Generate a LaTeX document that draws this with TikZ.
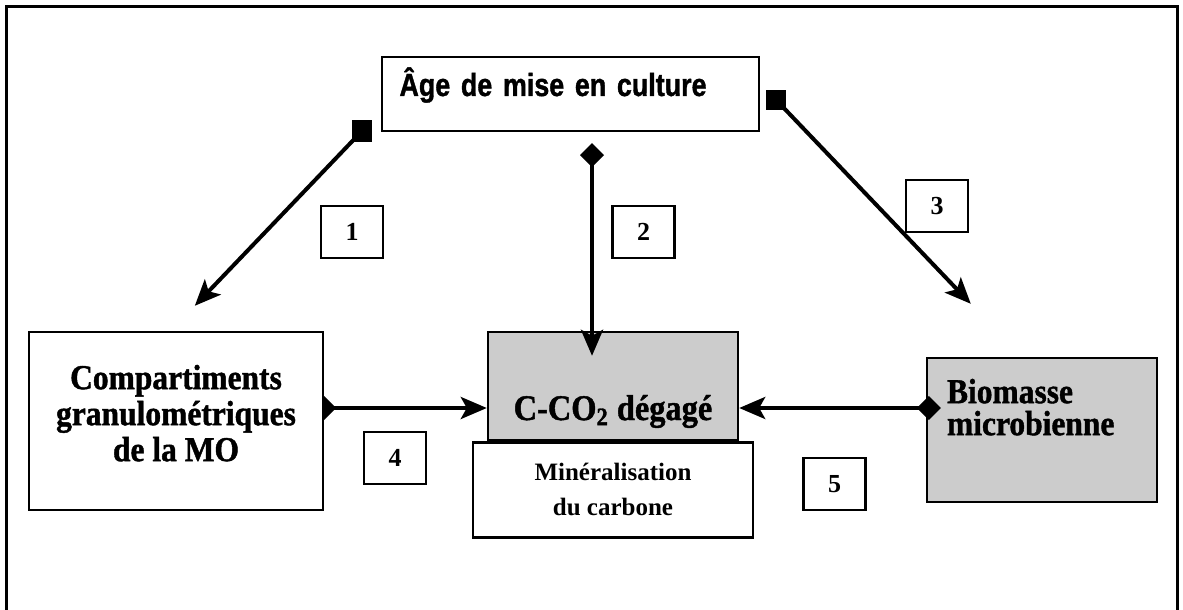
\documentclass[tikz,border=0pt]{standalone}
\usepackage{fontspec}
\setmainfont{Liberation Serif}
\newfontfamily\headsans{Liberation Sans}[FakeStretch=0.84,FakeBold=1.2]
\newfontfamily\headserif{Liberation Serif}[FakeStretch=0.9,FakeBold=1.2]
\usetikzlibrary{arrows.meta,positioning,calc,backgrounds}
\definecolor{dotgray}{gray}{0.8}
\tikzset{
  frame/.style   = {line width=1.5pt},
  box/.style     = {rectangle, draw, line width=1.2pt, fill=white, inner sep=0pt},
  greybox/.style = {box, fill=dotgray},
  numbox/.style  = {rectangle, draw, line width=1.1pt, fill=white,
                    minimum width=31pt, minimum height=26pt,
                    font=\bfseries\fontsize{13}{15}\selectfont},
  headfont/.style = {font=\headserif\bfseries\fontsize{17.5}{#1}\selectfont},
  flow/.style    = {-{Stealth[length=13pt,width=11pt,inset=3pt]}, line width=2pt},
  dflow/.style   = {{Diamond[length=12pt,width=12pt]}-{Stealth[length=13pt,width=11pt,inset=3pt]},
                    line width=2pt},
}
\begin{document}
\begin{tikzpicture}[x=0.5pt,y=-0.5pt]
  \useasboundingbox (0,0) rectangle (1183,610);
  \draw[frame] (6,640) -- (6,7) -- (1177,7) -- (1177,640);

  % boxes
  \node[box, text width=171pt, inner xsep=8.75pt, align=left,
        text height=19.5pt, text depth=17.5pt,
        font=\headsans\bfseries\fontsize{16}{18}\selectfont] (age) at (570.5,94)
    {Âge de mise en culture};
  \node[box, minimum width=147pt, minimum height=89pt, align=center, headfont=18pt]
    (compart) at (176,421) {Compartiments\\granulométriques\\de la MO\\[-10pt]\mbox{}};
  \node[greybox, minimum width=125pt, text height=44pt, text depth=10pt,
        font=\headserif\bfseries\fontsize{18}{20}\selectfont] (ccog) at (613,386)
    {C-CO\textsubscript{2} dégagé};
  \node[box, below=0pt of ccog, minimum width=140pt, minimum height=47.5pt, align=center,
        font=\bfseries\fontsize{12.5}{17.5}\selectfont] (miner)
    {Minéralisation\\du carbone};
  \node[greybox, minimum height=72pt, text width=95pt, inner xsep=10pt, align=left,
        headfont=16pt] (bio) at (1042,430) {Biomasse\\microbienne\\[7pt]\mbox{}};

  % numbers
  \node[numbox] (n1) at (352,232) {1};
  \node[numbox] (n2) at (643.5,232) {2};
  \node[numbox] (n3) at (937,206) {3};
  \node[numbox] (n4) at (395,458) {4};
  \node[numbox] (n5) at (834.5,484) {5};

  % connectors
  \coordinate (s1) at ($(age.south west)+(-19,-1)$);
  \coordinate (e1) at ($(compart.north west)+(167,-25)$);
  \coordinate (s2) at ($(age.south)+(21.5,11)$);
  \coordinate (e2) at ($(s2 |- ccog.north)+(0,25)$);
  \coordinate (s3) at ($(age.east)+(16,6)$);
  \coordinate (e3) at ($(bio.north west)+(45,-53)$);
  \coordinate (mid) at (0,408);

  \draw[flow] (s1) -- (e1);
  \fill (s1) ++(-5pt,-5.5pt) rectangle ++(10pt,11pt);
  \draw[dflow] (s2) -- (e2);
  \draw[flow] (s3) -- (e3);
  \fill (s3) ++(-5pt,-5pt) rectangle ++(10pt,10pt);
  \begin{scope}[on background layer]
    \draw[dflow] ($(compart.east |- mid)+(-12,0)$) -- (ccog.west |- mid);
  \end{scope}
  \draw[dflow] ($(bio.west |- mid)+(15,0)$) -- (ccog.east |- mid);
\end{tikzpicture}
\end{document}
